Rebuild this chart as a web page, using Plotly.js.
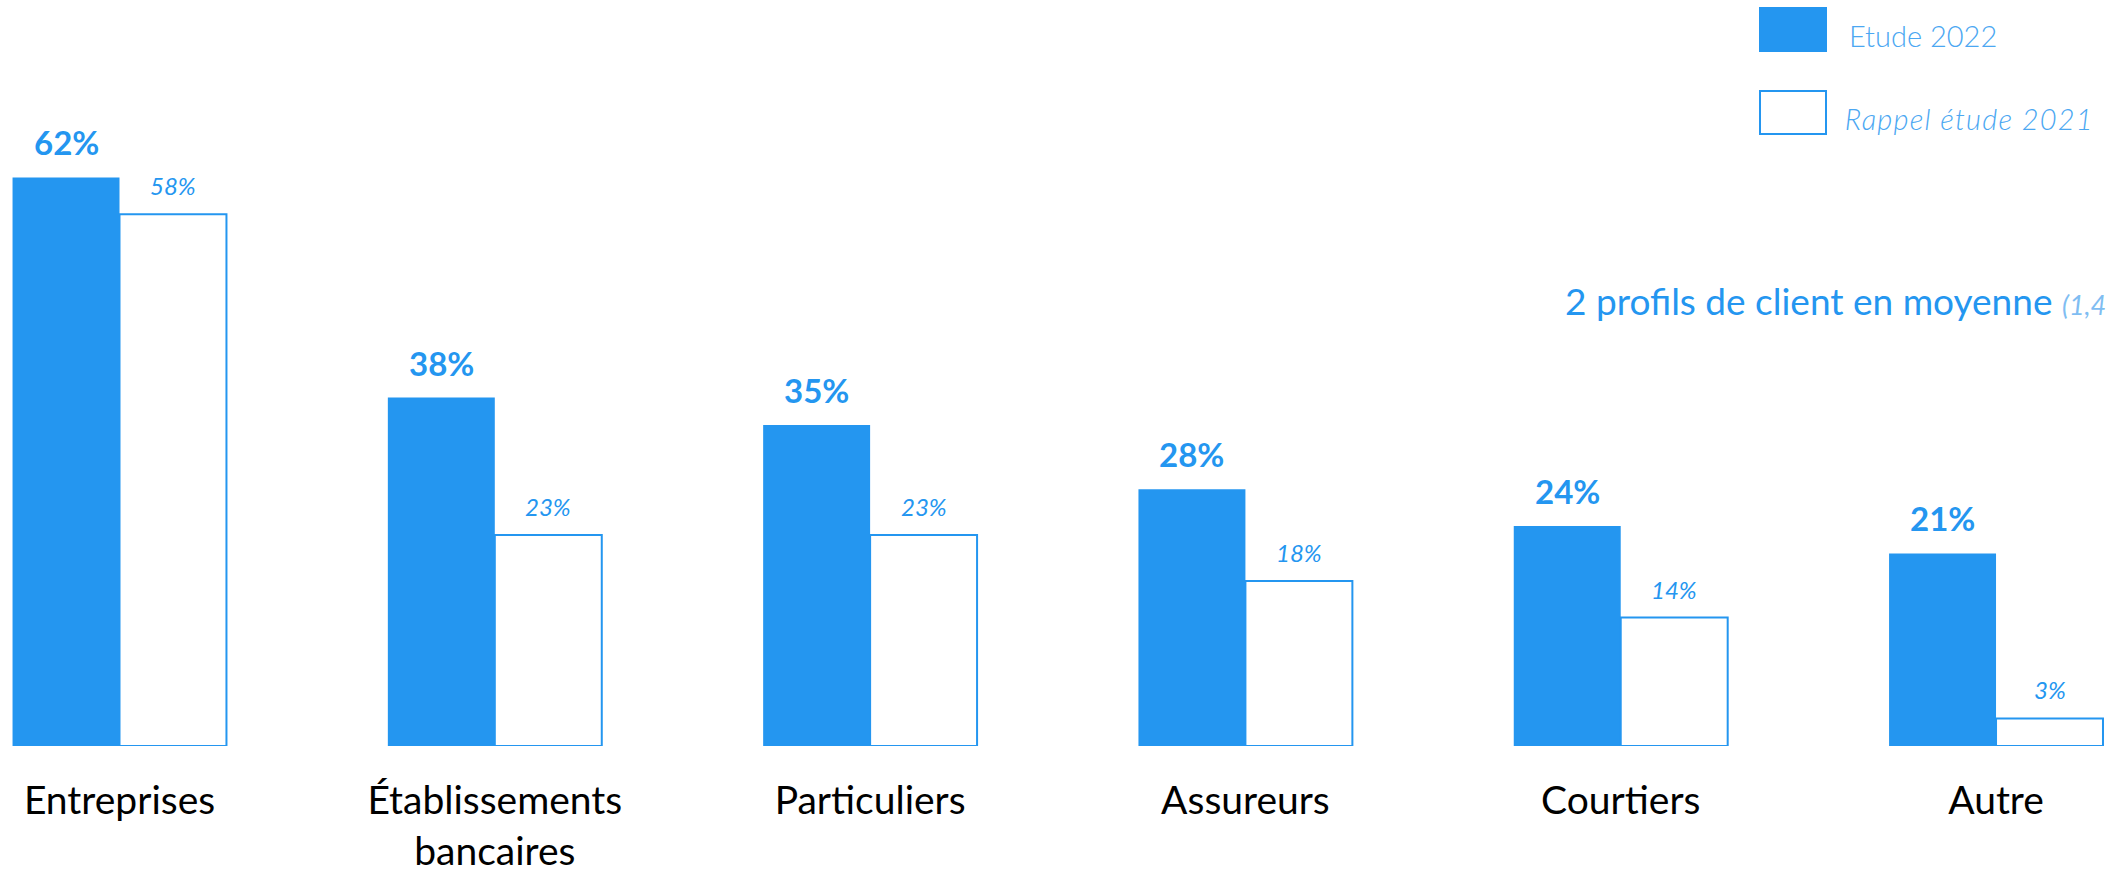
<!DOCTYPE html>
<html>
<head>
<meta charset="utf-8">
<script src="https://cdn.plot.ly/plotly-3.0.1.min.js"></script>
<style>
  html, body { margin: 0; padding: 0; background: #ffffff; }
  #chart { width: 2112px; height: 872px; }
</style>
</head>
<body>
<div id="chart"></div>
<script>
// ---- Data ----
const categories = ['Entreprises', 'Établissements<br>bancaires', 'Particuliers', 'Assureurs', 'Courtiers', 'Autre'];
const values2022 = [62, 38, 35, 28, 24, 21];
const values2021 = [58, 23, 23, 18, 14, 3];
const seriesNames = ['Etude 2022', 'Rappel étude 2021'];
const noteMain = '2 profils de client en moyenne';
const noteSide = '(1,4 en 2021)';

// ---- Style ----
const BLUE = '#2496F0';
const LIGHTBLUE = '#4BA7F2';
const W = 2112, H = 872;
const PLOT_BOTTOM = 746;           // px from top
const BAR_W = 0.285;               // in category units

const px = x => x / W;
const py = y => (PLOT_BOTTOM - y) / PLOT_BOTTOM;

const traces = [
  {
    type: 'bar', name: seriesNames[0], x: categories, y: values2022,
    offset: -BAR_W, width: BAR_W,
    marker: { color: BLUE, line: { width: 0 } },
    hoverinfo: 'skip'
  },
  {
    type: 'bar', name: seriesNames[1], x: categories, y: values2021,
    offset: 0, width: BAR_W,
    marker: { color: '#ffffff', line: { color: BLUE, width: 2 } },
    hoverinfo: 'skip'
  }
];

const annotations = [];
values2022.forEach((v, i) => annotations.push({
  xref: 'x', yref: 'y', x: i - BAR_W / 2, y: v, text: v + '%',
  showarrow: false, yanchor: 'bottom', yshift: 13,
  font: { family: 'Lato', size: 33, color: BLUE, weight: 700 }
}));
values2021.forEach((v, i) => annotations.push({
  xref: 'x', yref: 'y', x: i + BAR_W / 2, y: v, text: '<i>' + v + '%</i>',
  showarrow: false, yanchor: 'bottom', yshift: 12,
  font: { family: 'Lato', size: 24, color: BLUE }
}));
// legend texts
annotations.push({
  xref: 'paper', yref: 'paper', x: px(1847), y: py(35), xanchor: 'left', yanchor: 'middle',
  text: seriesNames[0], showarrow: false,
  font: { family: 'Lato', size: 29, color: LIGHTBLUE, weight: 300 }
});
annotations.push({
  xref: 'paper', yref: 'paper', x: px(1847), y: py(118), xanchor: 'left', yanchor: 'middle',
  xshift: 6,
  text: '<i>' + seriesNames[1] + '</i>', showarrow: false,
  font: { family: 'Lato', size: 29, color: LIGHTBLUE, weight: 300 }
});
// note
annotations.push({
  xref: 'paper', yref: 'paper', x: px(1563), y: py(300), xanchor: 'left', yanchor: 'middle',
  text: noteMain + ' <i><span style="font-size:27px;color:#7FBDF2">' + noteSide + '</span></i>',
  showarrow: false,
  font: { family: 'Lato', size: 37, color: BLUE }
});

const shapes = [
  { type: 'rect', xref: 'paper', yref: 'paper', x0: px(1759), x1: px(1827), y0: py(52), y1: py(7),
    fillcolor: BLUE, line: { width: 0 } },
  { type: 'rect', xref: 'paper', yref: 'paper', x0: px(1760), x1: px(1826), y0: py(134), y1: py(91),
    fillcolor: '#ffffff', line: { color: BLUE, width: 2 } }
];

const layout = {
  width: W, height: H,
  margin: { l: 0, r: 0, t: 0, b: H - PLOT_BOTTOM, pad: 0 },
  paper_bgcolor: '#ffffff', plot_bgcolor: '#ffffff',
  showlegend: false,
  barmode: 'overlay',
  xaxis: {
    type: 'category', range: [-0.3184, 5.309], autorange: false,
    showgrid: false, zeroline: false, showline: false, ticks: '',
    ticklabelstandoff: 28,
    tickfont: { family: 'Lato', size: 39, color: '#000000' },
    fixedrange: true
  },
  yaxis: {
    range: [0, 81.35], autorange: false,
    showgrid: false, zeroline: false, showline: false, showticklabels: false, ticks: '',
    fixedrange: true
  },
  annotations: annotations,
  shapes: shapes
};

Plotly.newPlot('chart', traces, layout, { displayModeBar: false, staticPlot: true }).then(gd => {
  gd.querySelectorAll('.annotation-text').forEach(t => {
    if (t.textContent.indexOf('Rappel') === 0) {
      t.style.letterSpacing = '1.2px';
    }
  });
});
</script>
</body>
</html>
